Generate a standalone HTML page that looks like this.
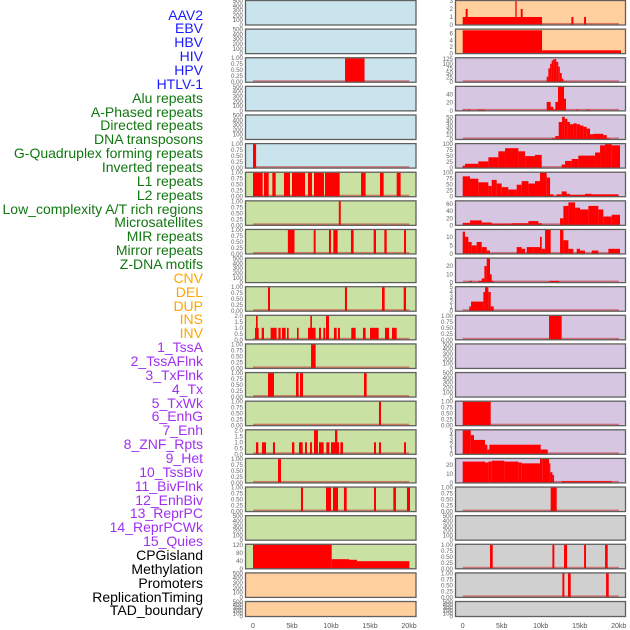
<!DOCTYPE html>
<html><head><meta charset="utf-8"><style>
html,body{margin:0;padding:0;background:#fff;}
#wrap{position:relative;width:630px;height:630px;overflow:hidden;font-family:"Liberation Sans",sans-serif;}
#labels{position:absolute;left:0;top:0;width:203px;}
.lab{position:absolute;right:0;font-size:14px;line-height:14px;white-space:nowrap;text-align:right;}
svg{position:absolute;left:0;top:0;}
</style></head><body>
<div id="wrap">
<div id="labels"></div>
<svg id="chart" width="630" height="630"></svg>
</div>
<script>
// ---- label data ----
const labelNames=["AAV2","EBV","HBV","HIV","HPV","HTLV-1","Alu repeats","A-Phased repeats","Directed repeats","DNA transposons","G-Quadruplex forming repeats","Inverted repeats","L1 repeats","L2 repeats","Low_complexity A/T rich regions","Microsatellites","MIR repeats","Mirror repeats","Z-DNA motifs","CNV","DEL","DUP","INS","INV","1_TssA","2_TssAFlnk","3_TxFlnk","4_Tx","5_TxWk","6_EnhG","7_Enh","8_ZNF_Rpts","9_Het","10_TssBiv","11_BivFlnk","12_EnhBiv","13_ReprPC","14_ReprPCWk","15_Quies","CPGisland","Methylation","Promoters","ReplicationTiming","TAD_boundary"];
const labelGroups=["v","v","v","v","v","v","r","r","r","r","r","r","r","r","r","r","r","r","r","c","c","c","c","c","s","s","s","s","s","s","s","s","s","s","s","s","s","s","s","o","o","o","o","o"];
const groupColors={v:"#1a1aff",r:"#117711",c:"#ffa500",s:"#a030f0",o:"#000000"};

// ---- x axis ----
const xTickValues=[0,5,10,15,20];
const xTickLabels=["0","5kb","10kb","15kb","20kb"];

// ---- tick label sets ----
const ticksEmpty=["0","100","200","300","400","500"];
const ticksFrac=["0.00","0.25","0.50","0.75","1.00"];
const ticksTwo=["0.0","0.5","1.0","1.5","2.0"];

// ---- left column series [startKb,endKb,value] ----
const L2=[[11.8,14.3,1]];
const L5=[[0,0.4,1]];
const L6=[[0,1.24,1],[1.41,2.01,1],[2.48,2.91,1],[3.97,4.74,1],[5.0,6.67,1],[7.05,7.56,1],[7.82,9.1,1],[9.23,11.11,1],[13.85,14.44,1],[16.28,16.75,1],[18.42,18.93,1]];
const L7=[[11.0,11.25,1]];
const L8=[[4.47,5.32,1],[7.78,8.03,1],[9.74,10.0,1],[10.3,10.85,1],[12.56,12.9,1],[15.47,15.77,1],[16.84,17.14,1],[19.36,19.62,1]];
const L10=[[1.92,2.18,1],[11.79,12.05,1],[16.54,16.88,1],[19.32,19.62,1]];
const L11=[[0.26,0.73,1],[0.38,0.6,2],[1.11,1.41,1],[2.26,3.03,1],[3.25,3.55,1],[3.72,4.19,1],[4.36,4.57,1],[5.64,5.85,1],[7.05,8.03,1],[7.35,7.56,2],[8.46,8.72,1],[9.02,9.27,1],[9.36,9.74,2],[10.38,10.73,1],[10.9,11.15,1],[12.6,13.16,1],[14.1,14.44,1],[15.0,16.11,1],[16.92,17.44,1],[17.82,18.42,1]];
const L12=[[7.44,8.03,1]];
const L13=[[1.92,2.69,1],[5.51,5.85,1],[6.03,6.41,1],[14.23,14.57,1]];
const L14=[[16.15,16.41,1]];
const L15=[[0.38,0.68,1],[1.15,1.67,1],[2.56,2.82,1],[5.0,5.3,1],[5.9,6.37,1],[6.67,6.92,1],[7.31,7.56,1],[7.82,8.33,2],[8.46,9.06,1],[9.4,9.79,1],[10.0,11.03,1],[10.51,10.81,2],[11.2,11.54,1],[15.51,15.77,1],[16.15,16.41,1],[19.36,19.62,1]];
const L16=[[3.21,3.59,1]];
const L17=[[6.15,6.41,1],[9.36,10.0,1],[10.26,10.9,1],[11.66,12.01,1],[15.51,15.77,1],[17.99,18.33,1],[19.74,20.13,1]];
const L19=[[0,3.46,125],[3.46,7.18,128],[7.18,9.36,125],[9.36,10.09,128],[10.09,12.31,48],[12.31,13.33,45],[13.33,20.04,38]];

// ---- right column series ----
const R0=[[0,10.17,1],[0.38,0.64,2],[6.75,6.92,3],[7.44,7.69,2],[13.93,14.19,1],[15.56,15.81,1]];
const R1=[[0,10.17,7],[10.17,20.3,1]];
const R2=[[10.77,10.98,30],[10.98,11.2,75],[11.2,11.4,100],[11.4,11.62,118],[11.62,12.0,125],[12.0,12.25,110],[12.25,12.45,85],[12.45,12.7,50],[12.7,12.9,20],[12.9,13.3,5],[13.3,14.5,3],[14.9,16.0,3]];
const R3=[[0,0.26,3],[0.6,1.03,3],[1.88,2.86,3],[10.77,11.28,22],[11.28,11.62,10],[11.62,11.88,3],[11.88,12.22,22],[12.22,12.99,59],[12.99,13.25,30],[14.53,14.87,3],[15.9,16.32,3]];
const R4=[[11.45,11.88,3],[11.88,12.31,8],[12.31,12.74,40],[12.74,13.08,52],[13.08,13.42,47],[13.42,13.76,40],[13.76,14.19,35],[14.19,14.62,37],[14.62,15.04,35],[15.04,15.47,32],[15.47,15.9,29],[15.9,16.32,25],[16.32,16.75,12],[16.75,18.03,13],[18.03,18.46,10],[18.46,18.8,3]];
const R5=[[0,0.3,10],[0.3,2.0,18],[2.0,3.29,28],[3.29,4.57,45],[4.57,5.43,70],[5.43,7.14,83],[7.14,8.0,70],[8.0,9.27,50],[9.27,10.13,55],[12.69,13.12,15],[13.12,13.97,30],[13.97,14.83,38],[14.83,16.97,52],[16.97,17.61,65],[17.61,18.25,95],[18.25,19.1,100],[19.1,20.17,95]];
const R6=[[0,0.94,85],[0.94,2.0,75],[2.0,3.29,60],[3.29,3.72,45],[3.72,4.36,70],[4.36,5.0,55],[5.0,5.85,40],[5.85,6.92,30],[6.92,7.56,50],[7.56,8.42,65],[8.42,9.27,55],[9.27,9.91,65],[9.91,10.77,100],[10.77,11.2,80],[11.2,11.62,10],[12.05,12.69,10],[12.69,13.33,22],[13.33,13.76,12],[13.76,15.68,8],[15.68,16.54,12],[16.54,19.96,10]];
const R7=[[0,0.94,7],[0.94,2.44,14],[2.44,3.72,8],[3.72,6.28,5],[6.28,8.42,6],[8.42,9.7,12],[9.7,10.13,6],[12.48,12.91,20],[12.91,13.55,55],[13.55,14.4,65],[14.4,15.04,50],[15.04,16.11,45],[16.11,17.39,55],[17.39,18.03,45],[18.03,19.1,25],[19.1,20.17,30]];
const R8=[[0,0.3,13],[0.3,0.73,10],[0.73,1.15,7],[1.15,1.79,5],[1.79,2.44,7],[2.44,3.08,4],[3.08,3.5,2],[6.92,7.56,4],[7.56,7.99,3],[8.21,9.06,4],[9.06,9.91,4],[9.91,10.13,10],[10.13,10.56,3],[10.56,11.28,14],[12.48,12.91,14],[12.91,13.55,8],[13.55,14.19,3],[14.62,15.04,3],[15.04,15.68,2],[16.54,17.39,2],[18.68,20.17,3]];
const R9=[[0.85,1.2,2],[2.0,2.44,2],[2.44,2.78,5],[2.78,3.08,20],[3.08,3.5,29],[3.5,3.72,10],[3.72,3.97,2],[11.11,12.35,2]];
const R10=[[0.85,1.07,1],[1.07,2.65,2],[2.65,2.86,4],[2.86,3.29,5],[3.29,3.59,4],[3.59,3.97,1]];
const R11=[[11.07,12.69,1]];
const R14=[[0,3.59,1]];
const R15=[[0,1.03,5],[1.03,1.45,4],[1.45,2.86,3],[2.86,3.16,2],[3.16,3.42,1],[3.42,10.0,2],[10.0,10.9,1]];
const R16=[[0,2.86,24],[2.86,3.29,23],[3.29,3.72,24],[3.72,5.34,25],[5.34,7.14,24],[7.14,7.56,23],[7.56,9.91,22],[9.91,10.26,28],[10.26,11.07,27],[11.07,11.24,22],[11.24,11.5,12],[11.5,11.71,9],[12.69,19.1,2]];
const R17=[[11.28,12.05,1]];
const R19=[[3.5,3.85,1],[11.5,11.75,1],[12.99,13.38,1],[15.56,15.81,1],[18.25,18.59,1]];
const R20=[[12.78,13.03,1],[13.5,13.85,1],[18.38,18.72,1]];

const BG={b:"#c9e4ec",g:"#c9e1a3",o:"#ffcf9e",p:"#d6c6e2",k:"#d0d0d0"};
const leftBg="bbbbbbggggggggggggggooo";
const rightBg="oopppppppppppppppkkkkk";
const leftPanels=[[null,500,ticksEmpty],[null,500,ticksEmpty],[L2,1,ticksFrac],[null,500,ticksEmpty],[null,500,ticksEmpty],[L5,1,ticksFrac],[L6,1,ticksFrac],[L7,1,ticksFrac],[L8,1,ticksFrac],[null,500,ticksEmpty],[L10,1,ticksFrac],[L11,2,ticksTwo],[L12,1,ticksFrac],[L13,1,ticksFrac],[L14,1,ticksFrac],[L15,2,ticksTwo],[L16,1,ticksFrac],[L17,1,ticksFrac],[null,500,ticksEmpty],[L19,120,["0","40","80","120"]],[null,500,ticksEmpty],[null,500,ticksEmpty]];
const rightPanels=[[R0,3,["0","1","2","3"]],[R1,7.2,["0","2","4","6"]],[R2,130,["0","25","50","75","100","125"]],[R3,59,["0","20","40"]],[R4,55,["0","10","20","30","40","50"]],[R5,100,["0","25","50","75","100"]],[R6,100,["0","25","50","75","100"]],[R7,68,["0","20","40","60"]],[R8,14,["0","5","10"]],[R9,29,["0","10","20"]],[R10,5,["0","1","2","3","4","5"]],[R11,1,ticksFrac],[null,500,ticksEmpty],[null,500,ticksEmpty],[R14,1,ticksFrac],[R15,5,["0","1","2","3","4","5"]],[R16,27,["0","10","20"]],[R17,1,ticksFrac],[null,500,ticksEmpty],[R19,1,ticksFrac],[R20,1,ticksFrac],[null,500,ticksEmpty]];

// ---- labels ----
const labDiv=document.getElementById('labels');
labelNames.forEach((n,i)=>{
  const d=document.createElement('div');
  d.className='lab';
  
  
  d.style.top=(15+i*13.86-7.5)+'px';
  d.style.color=groupColors[labelGroups[i]];
  d.textContent=n;
  labDiv.appendChild(d);
});

// ---- panels ----
const NS="http://www.w3.org/2000/svg";
const svg=document.getElementById('chart');
function mk(tag,attrs,parent){const e=document.createElementNS(NS,tag);for(const k in attrs)e.setAttribute(k,attrs[k]);(parent||svg).appendChild(e);return e;}
const COLS=[{x0:245.5,x1:416,z:253,pk:7.8},{x0:455.5,x1:625.5,z:462.7,pk:7.8}];
function rowTop(r){return 0.5+r*28.62;}
function rowH(r){return r===21?15:24.5;}
function xScale(c,kb){return COLS[c].z+kb*COLS[c].pk;}
function drawPanel(c,r,p,bgc){
  const col=COLS[c],top=rowTop(r),h=rowH(r),bot=top+h;
  const g=mk('g',{});
  
  
  mk('rect',{x:col.x0,y:top,width:col.x1-col.x0,height:h,fill:BG[bgc]},g);
  const [data,ymax,ticks]=p;
  const yScale=v=>bot-v/ymax*(h-0.5);
  const tv=ticks.map(Number);
  ticks.forEach((t,i)=>{
    const tx=mk('text',{x:col.x0-2.5,y:yScale(tv[i])+2,'font-size':6.2,fill:'#666','text-anchor':'end'},g);
    
    
    tx.textContent=t;
  });
  if(data){
    const bl=mk('rect',{x:xScale(c,0),y:bot-2,width:xScale(c,20.04)-xScale(c,0),height:2,fill:'rgba(200,40,40,0.55)'},g);
    
    
    data.forEach(s=>{
      const x=xScale(c,s[0]),w=Math.max(xScale(c,s[1])-x,1.2),y=yScale(s[2]);
      const b=mk('rect',{x:x,y:Math.max(y,top),width:w,height:bot-Math.max(y,top),fill:'#ff0000'},g);
      
      
    });
  }
  mk('rect',{x:col.x0,y:top,width:col.x1-col.x0,height:h,fill:'none',stroke:'#606060','stroke-width':1.3},g);
}
leftPanels.forEach((p,r)=>drawPanel(0,r,p,leftBg[r]));
rightPanels.forEach((p,r)=>drawPanel(1,r,p,rightBg[r]));
[0,1].forEach(c=>{
  xTickValues.forEach((v,i)=>{
    const t=mk('text',{x:xScale(c,v),y:628,'font-size':7,fill:'#555','text-anchor':'middle'});
    
    
    t.textContent=xTickLabels[i];
  });
});
</script>
</body></html>
